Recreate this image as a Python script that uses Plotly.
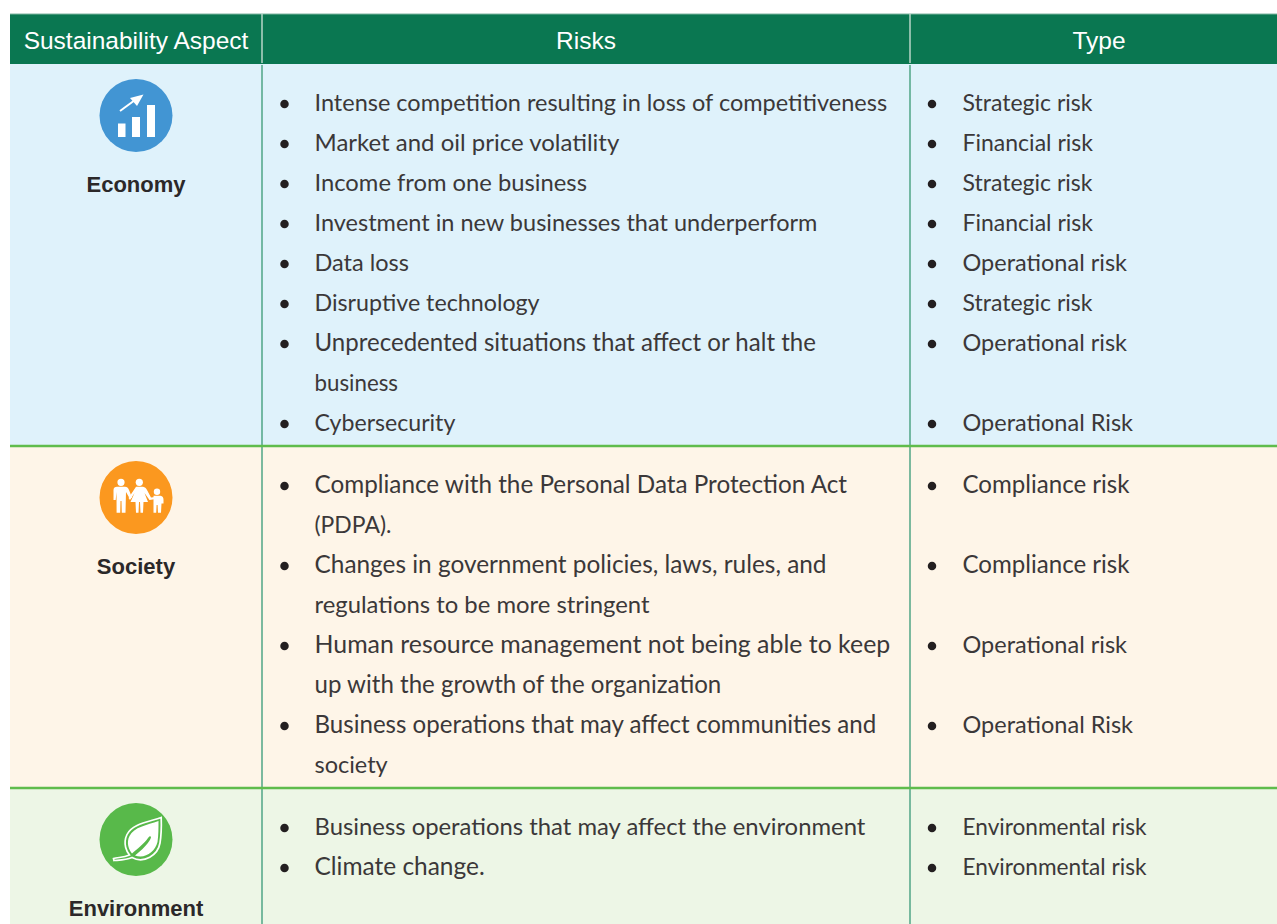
import plotly.graph_objects as go

headers = ["Sustainability Aspect", "Risks", "Type"]
aspects = ["Economy", "Society", "Environment"]
economy_risks = [
    ["Intense competition resulting in loss of competitiveness"],
    ["Market and oil price volatility"],
    ["Income from one business"],
    ["Investment in new businesses that underperform"],
    ["Data loss"],
    ["Disruptive technology"],
    ["Unprecedented situations that affect or halt the", "business"],
    ["Cybersecurity"],
]
economy_types = ["Strategic risk", "Financial risk", "Strategic risk", "Financial risk",
                 "Operational risk", "Strategic risk", "Operational risk", "Operational Risk"]
society_risks = [
    ["Compliance with the Personal Data Protection Act", "(PDPA)."],
    ["Changes in government policies, laws, rules, and", "regulations to be more stringent"],
    ["Human resource management not being able to keep", "up with the growth of the organization"],
    ["Business operations that may affect communities and", "society"],
]
society_types = ["Compliance risk", "Compliance risk", "Operational risk", "Operational Risk"]
environment_risks = [
    ["Business operations that may affect the environment"],
    ["Climate change."],
]
environment_types = ["Environmental risk", "Environmental risk"]

W, H = 1277, 924
COL = [10, 262, 910, 1277]
ROW = [14, 64, 446, 788, 924]
FIRST = [103, 485, 827]
STEP = 40
BASE = 23.5
# width fitting of individual lines to the reference's wider typeface
FIT = {
    "Market and oil price volatility": 1.02, "Income from one business": 1.012,
    "Unprecedented situations that affect or halt the": 1.024, "business": 0.95,
    "Disruptive technology": 0.99, "Cybersecurity": 0.985,
    "Compliance with the Personal Data Protection Act": 1.033, "(PDPA).": 0.975,
    "Changes in government policies, laws, rules, and": 1.038,
    "regulations to be more stringent": 1.015,
    "Human resource management not being able to keep": 1.059,
    "up with the growth of the organization": 1.025,
    "Business operations that may affect communities and": 1.025,
    "Business operations that may affect the environment": 1.015,
    "Climate change.": 1.04, "Environmental risk": 0.963, "Compliance risk": 1.025,
    "Financial risk": 0.98, "Strategic risk": 0.98,
}
BG = ["#dff2fb", "#fef5e8", "#edf6e6"]
ICON = ["#4295d3", "#fb981f", "#58b94a"]
TXT = "#3b3839"

fig = go.Figure()
shapes = []
def rect(x0, y0, x1, y1, c):
    shapes.append(dict(type="rect", x0=x0, y0=y0, x1=x1, y1=y1, fillcolor=c, line_width=0, layer="below"))
def line(x0, y0, x1, y1, c, w):
    shapes.append(dict(type="line", x0=x0, y0=y0, x1=x1, y1=y1, line=dict(color=c, width=w), layer="below"))
def path(d, c, lw=0, lc=None, fill=True):
    shapes.append(dict(type="path", path=d, fillcolor=c if fill else "rgba(0,0,0,0)",
                       line=dict(width=lw, color=lc or c), layer="below"))
def circ(cx, cy, r, c):
    shapes.append(dict(type="circle", x0=cx-r, y0=cy-r, x1=cx+r, y1=cy+r, fillcolor=c, line_width=0, layer="below"))

rect(COL[0], ROW[0], COL[3], ROW[1], "#0a7751")
for i in range(3):
    rect(COL[0], ROW[i+1], COL[3], ROW[i+2], BG[i])
line(COL[0], ROW[0], COL[3], ROW[0], "#7fb5a0", 1)
line(COL[1], ROW[0], COL[1], ROW[1]-1, "#b9d6c9", 1.5)
line(COL[2], ROW[0], COL[2], ROW[1]-1, "#b9d6c9", 1.5)
line(COL[1], ROW[1]+1, COL[1], ROW[4], "#4fa586", 1.5)
line(COL[2], ROW[1]+1, COL[2], ROW[4], "#4fa586", 1.5)
line(COL[0], ROW[2], COL[3], ROW[2], "#5fbc4c", 2.5)
line(COL[0], ROW[3], COL[3], ROW[3], "#5fbc4c", 2.5)

# icons
ICX = 136
circ(ICX, 115.5, 36.5, ICON[0]); circ(ICX, 497.5, 36.5, ICON[1]); circ(ICX, 839.5, 36.5, ICON[2])
rect(118, 123.5, 125.5, 137, "#fff"); rect(132, 117, 140, 137, "#fff"); rect(147, 105, 155, 137, "#fff")
line(120, 111, 135, 100, "#fff", 2)
path("M 130,98 L 143.5,94.5 L 137,106 Z", "#fff")
# family
W_ = "#ffffff"
circ(121, 482.3, 3.6, W_); circ(139.3, 482.3, 3.6, W_); circ(157, 491.7, 3.2, W_)
path("M 113.5,490 C 113.5,487.5 115,486.8 117,486.8 L 125,486.8 C 127,486.8 128,488 129,490 L 132,497.5 L 130,499 L 126,492 L 125.5,512.7 L 121.8,512.7 L 121.5,501 L 120.5,501 L 120.2,512.7 L 116.6,512.7 L 116.5,492 L 115.7,500 L 113.5,500 Z", W_)
path("M 136,486.8 L 143,486.8 C 145,487 146,488.5 147,490 L 151,497.5 L 156,497 L 156,499 L 149.5,500 L 144.5,493 L 148,502 L 143.5,502 L 143,512.7 L 140.5,512.7 L 140,502 L 139,502 L 138.5,512.7 L 136,512.7 L 135.5,502 L 130.5,502 L 134.5,493 L 130,500 L 128.5,498 Z", W_)
path("M 153.5,495.7 L 160.5,495.7 C 162.5,496 163.5,497.5 163.5,500 L 163.5,503.5 L 161.5,503.5 L 161,512.7 L 158,512.7 L 157.6,505 L 156.6,505 L 156.2,512.7 L 153.5,512.7 Z", W_)
# leaf
path("M 161.2,817.5 C 148,822 132,824 127,834.5 C 122.5,844 127,852 129.5,855 C 123,858 118,857 113.5,858.5 L 114,860.5 C 120,860 126,860 132,857.5 C 144,864 158,855 160,843 C 161.5,834 161.5,826 161.2,817.5 Z", "rgba(0,0,0,0)", 1.7, "#fff", fill=False)
path("M 158.5,821 C 147,825 134,827 129.5,836 C 126,843 129,850 132,853.5 C 137,849 144,844 148,838 C 149.5,836 150.5,836 151,837 C 151,839 147,846 135,855.5 C 145,859 155,852 157.5,842 C 158.5,835 158.5,828 158.5,821 Z", "#fff")

BUL = dict(size=8.5, color="#231f20")
def block(first, risks, types):
    xs, ys, txt, by = [], [], [], []
    y = first
    for r in risks:
        by.append(y)
        for j, l in enumerate(r):
            xs.append(314.5); ys.append(y + j * STEP + 2); txt.append(l)
        y += STEP * len(r)
    by1 = [v + 1 for v in by]
    fig.add_trace(go.Scatter(x=[284.5]*len(by), y=by1, mode="markers", marker=BUL, hoverinfo="skip"))
    fig.add_trace(go.Scatter(x=[932]*len(by), y=by1, mode="markers", marker=BUL, hoverinfo="skip"))
    fig.add_trace(go.Scatter(x=xs, y=ys, text=txt, mode="text", textposition="middle right", hoverinfo="skip",
                             textfont=dict(family="Lato", color=TXT, size=[BASE*FIT.get(t, 1) for t in txt])))
    fig.add_trace(go.Scatter(x=[962.5]*len(by), y=[v + 2 for v in by], text=types, mode="text",
                             textposition="middle right", hoverinfo="skip",
                             textfont=dict(family="Lato", color=TXT, size=[BASE*FIT.get(t, 1) for t in types])))

block(FIRST[0], economy_risks, economy_types)
block(FIRST[1], society_risks, society_types)
block(FIRST[2], environment_risks, environment_types)

fig.add_trace(go.Scatter(x=[136, 586, 1099], y=[42.5, 42.5, 42.5], text=headers, mode="text",
                         textposition="middle center", hoverinfo="skip",
                         textfont=dict(family="Liberation Sans", size=24.5, color="#ffffff")))
fig.add_trace(go.Scatter(x=[136, 136, 136], y=[186, 568, 910], text=aspects, mode="text",
                         textposition="middle center",
                         textfont=dict(family="Liberation Sans", size=22, color="#2b2829", weight="bold"), hoverinfo="skip"))

fig.update_layout(width=W, height=H, margin=dict(l=0, r=0, t=0, b=0), showlegend=False,
                  paper_bgcolor="#fff", plot_bgcolor="#fff", shapes=shapes,
                  xaxis=dict(range=[0, W], visible=False, fixedrange=True),
                  yaxis=dict(range=[H, 0], visible=False, fixedrange=True))
fig.write_html("out.html", config=dict(displayModeBar=False),
               post_script="document.body.style.margin='0';document.documentElement.style.overflow='hidden';")
